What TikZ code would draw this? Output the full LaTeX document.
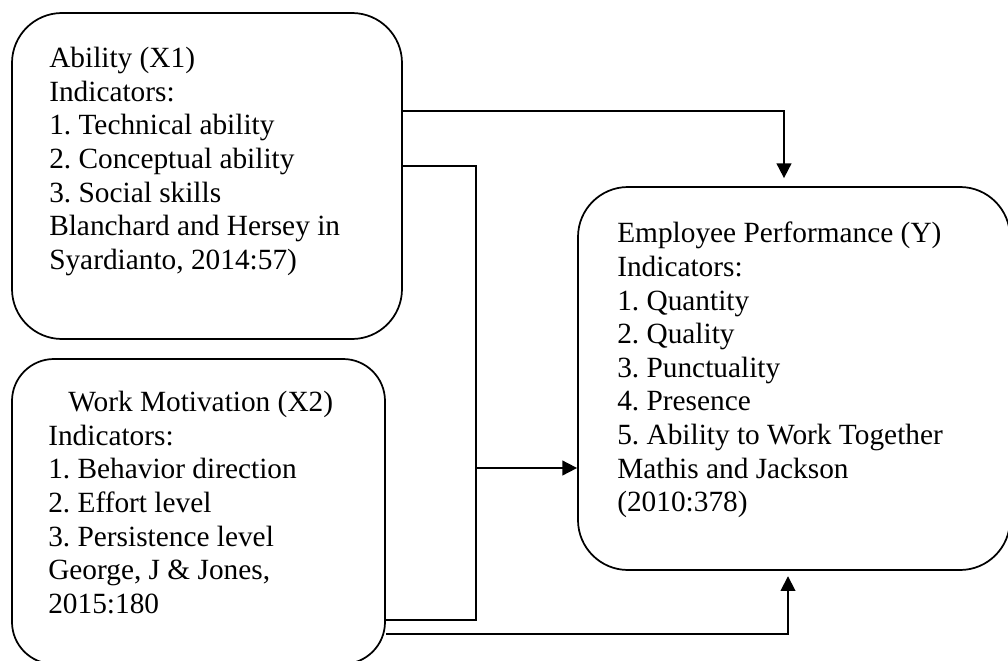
\documentclass[tikz,border=0pt]{standalone}
\usepackage{fontspec}
\setmainfont{Liberation Serif}
\usetikzlibrary{arrows.meta,calc}
\frenchspacing
\begin{document}
\begin{tikzpicture}[x=0.75pt,y=-0.75pt,
  box/.style={draw, line width=1.3pt, rounded corners=37.5pt, inner sep=0pt},
  txt/.style={anchor=north west, align=left, inner sep=0pt, font=\fontsize{22}{25.2}\selectfont},
  conn/.style={line width=1.3pt},
  arr/.style={conn, -{Triangle[length=11pt,width=11pt]}}]
\useasboundingbox (0,0) rectangle (1008,661);
% boxes
\node[box, minimum width=292.5pt, minimum height=244.5pt] (b1) at (207,176) {};
\node[box, rounded corners=31.5pt, minimum width=279.75pt, minimum height=228.75pt] (b2) at (198.5,511.5) {};
\node[box, minimum width=324pt, minimum height=287.25pt] (b3) at (794,378.5) {};
% texts
\node[txt] (t1) at (49,47) {Ability (X1)\\Indicators:\\1. Technical ability\\2. Conceptual ability\\3. Social skills\\Blanchard and Hersey in\\Syardianto, 2014:57)};
\node[txt] (t2) at (48,391) {\hspace*{15pt}Work Motivation (X2)\\Indicators:\\1. Behavior direction\\2. Effort level\\3. Persistence level\\George, J \& Jones,\\2015:180};
\node[txt] (t3) at (617,222) {Employee Performance (Y)\\Indicators:\\1. Quantity\\2. Quality\\3. Punctuality\\4. Presence\\5. Ability to Work Together\\Mathis and Jackson\\(2010:378)};
% connectors
\coordinate (j) at (476,468);
\draw[arr, shorten >=6pt] (b1.east |- 0,111) -| (784,0 |- b3.north);
\draw[conn] (b1.east |- 0,166) -| (476,620) -- (b2.east |- 0,620);
\draw[arr] (j) -- (b3.west |- j);
\draw[arr, shorten >=4pt] (b2.east |- 0,634) -| (788,0 |- b3.south);
\end{tikzpicture}
\end{document}
